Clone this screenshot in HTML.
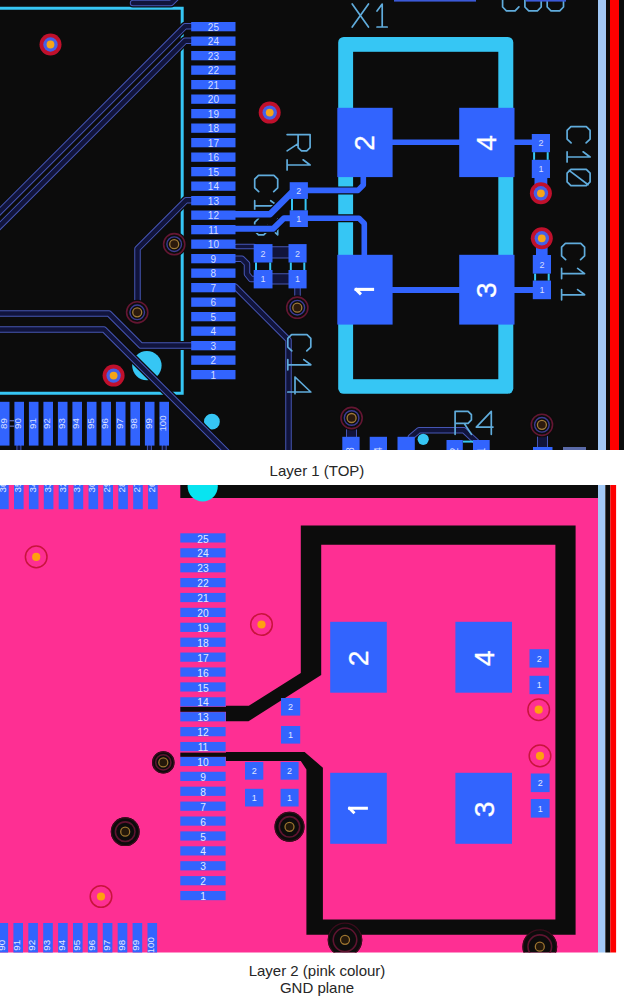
<!DOCTYPE html><html><head><meta charset="utf-8"><style>
html,body{margin:0;padding:0;background:#fff;width:624px;height:998px;overflow:hidden}
svg{position:absolute;left:0;top:0}
.cap{position:absolute;left:5px;width:624px;text-align:center;font-family:"Liberation Sans",sans-serif;color:#262626;font-size:15px;line-height:17px}
</style></head><body>
<svg width="624" height="998" viewBox="0 0 624 998" font-family="Liberation Sans, sans-serif">

<rect x="0" y="0" width="624" height="450" fill="#0c0c0c"/>
<defs><clipPath id="ct"><rect x="0" y="0" width="624" height="450"/></clipPath><clipPath id="cb"><rect x="0" y="485" width="598" height="467.5"/></clipPath></defs>
<g clip-path="url(#ct)">
<rect x="598" y="0" width="8" height="450" fill="#a2c9f7"/>
<rect x="610" y="0" width="9" height="450" fill="#fe0000"/>
<path d="M0,8.3 L182.2,8.3 L182.2,393.2 L0,393.2" fill="none" stroke="#36c6f4" stroke-width="3"/>
<rect x="338.2" y="37.0" width="175.1" height="356.8" rx="5.5" fill="#36c6f4"/>
<rect x="353.1" y="51.8" width="145.2" height="327.4" fill="#0c0c0c"/>
<path d="M191,26.3 L185,26.3 L-5,216.3" fill="none" stroke="#0c0c0c" stroke-width="9.0" stroke-linejoin="round" stroke-linecap="round"/>
<path d="M191,26.3 L185,26.3 L-5,216.3" fill="none" stroke="#4656b4" stroke-width="6.5" stroke-linejoin="round" stroke-linecap="round"/>
<path d="M191,26.3 L185,26.3 L-5,216.3" fill="none" stroke="#11143c" stroke-width="4.5" stroke-linejoin="round" stroke-linecap="round"/>
<path d="M191,40.8 L185,40.8 L-5,230.8" fill="none" stroke="#0c0c0c" stroke-width="9.0" stroke-linejoin="round" stroke-linecap="round"/>
<path d="M191,40.8 L185,40.8 L-5,230.8" fill="none" stroke="#4656b4" stroke-width="6.5" stroke-linejoin="round" stroke-linecap="round"/>
<path d="M191,40.8 L185,40.8 L-5,230.8" fill="none" stroke="#11143c" stroke-width="4.5" stroke-linejoin="round" stroke-linecap="round"/>
<path d="M133,3 L171,3 L178,-4" fill="none" stroke="#0c0c0c" stroke-width="9.0" stroke-linejoin="round" stroke-linecap="round"/>
<path d="M133,3 L171,3 L178,-4" fill="none" stroke="#4656b4" stroke-width="6.5" stroke-linejoin="round" stroke-linecap="round"/>
<path d="M133,3 L171,3 L178,-4" fill="none" stroke="#11143c" stroke-width="4.5" stroke-linejoin="round" stroke-linecap="round"/>
<path d="M191,200.3 L186,200.3 L137.5,248.8 L137.5,312" fill="none" stroke="#0c0c0c" stroke-width="9.0" stroke-linejoin="round" stroke-linecap="round"/>
<path d="M191,200.3 L186,200.3 L137.5,248.8 L137.5,312" fill="none" stroke="#4656b4" stroke-width="6.5" stroke-linejoin="round" stroke-linecap="round"/>
<path d="M191,200.3 L186,200.3 L137.5,248.8 L137.5,312" fill="none" stroke="#11143c" stroke-width="4.5" stroke-linejoin="round" stroke-linecap="round"/>
<path d="M-5,313.6 L109,313.6 L141,345.6 L191,345.6" fill="none" stroke="#0c0c0c" stroke-width="9.0" stroke-linejoin="round" stroke-linecap="round"/>
<path d="M-5,313.6 L109,313.6 L141,345.6 L191,345.6" fill="none" stroke="#4656b4" stroke-width="6.5" stroke-linejoin="round" stroke-linecap="round"/>
<path d="M-5,313.6 L109,313.6 L141,345.6 L191,345.6" fill="none" stroke="#11143c" stroke-width="4.5" stroke-linejoin="round" stroke-linecap="round"/>
<path d="M236.5,246.5 L254,246.5" fill="none" stroke="#0c0c0c" stroke-width="8.1" stroke-linejoin="round" stroke-linecap="round"/>
<path d="M236.5,246.5 L254,246.5" fill="none" stroke="#4656b4" stroke-width="5.6" stroke-linejoin="round" stroke-linecap="round"/>
<path d="M236.5,246.5 L254,246.5" fill="none" stroke="#11143c" stroke-width="3.5999999999999996" stroke-linejoin="round" stroke-linecap="round"/>
<path d="M235.5,258.8 L242,258.8 L247,263.8 L247,274 L251,279 L254,279" fill="none" stroke="#0c0c0c" stroke-width="9.0" stroke-linejoin="round" stroke-linecap="round"/>
<path d="M235.5,258.8 L242,258.8 L247,263.8 L247,274 L251,279 L254,279" fill="none" stroke="#4656b4" stroke-width="6.5" stroke-linejoin="round" stroke-linecap="round"/>
<path d="M235.5,258.8 L242,258.8 L247,263.8 L247,274 L251,279 L254,279" fill="none" stroke="#11143c" stroke-width="4.5" stroke-linejoin="round" stroke-linecap="round"/>
<path d="M270,252.4 L291,252.4" fill="none" stroke="#4656b4" stroke-width="12.4" stroke-linejoin="round" stroke-linecap="round"/>
<path d="M270,252.4 L291,252.4" fill="none" stroke="#11143c" stroke-width="10.4" stroke-linejoin="round" stroke-linecap="round"/>
<path d="M270,278.8 L291,278.8" fill="none" stroke="#4656b4" stroke-width="11.2" stroke-linejoin="round" stroke-linecap="round"/>
<path d="M270,278.8 L291,278.8" fill="none" stroke="#11143c" stroke-width="9.2" stroke-linejoin="round" stroke-linecap="round"/>
<path d="M297.5,288 L297.5,305" fill="none" stroke="#0c0c0c" stroke-width="9.0" stroke-linejoin="round" stroke-linecap="round"/>
<path d="M297.5,288 L297.5,305" fill="none" stroke="#4656b4" stroke-width="6.5" stroke-linejoin="round" stroke-linecap="round"/>
<path d="M297.5,288 L297.5,305" fill="none" stroke="#11143c" stroke-width="4.5" stroke-linejoin="round" stroke-linecap="round"/>
<path d="M235.5,287 L288.5,340 L288.5,460" fill="none" stroke="#0c0c0c" stroke-width="9.0" stroke-linejoin="round" stroke-linecap="round"/>
<path d="M235.5,287 L288.5,340 L288.5,460" fill="none" stroke="#4656b4" stroke-width="6.5" stroke-linejoin="round" stroke-linecap="round"/>
<path d="M235.5,287 L288.5,340 L288.5,460" fill="none" stroke="#11143c" stroke-width="4.5" stroke-linejoin="round" stroke-linecap="round"/>
<path d="M149.4,446 L149.4,455" fill="none" stroke="#0c0c0c" stroke-width="7.5" stroke-linejoin="round" stroke-linecap="round"/>
<path d="M149.4,446 L149.4,455" fill="none" stroke="#4656b4" stroke-width="5" stroke-linejoin="round" stroke-linecap="round"/>
<path d="M149.4,446 L149.4,455" fill="none" stroke="#11143c" stroke-width="3" stroke-linejoin="round" stroke-linecap="round"/>
<path d="M18.9,446 L18.9,455" fill="none" stroke="#0c0c0c" stroke-width="7.5" stroke-linejoin="round" stroke-linecap="round"/>
<path d="M18.9,446 L18.9,455" fill="none" stroke="#4656b4" stroke-width="5" stroke-linejoin="round" stroke-linecap="round"/>
<path d="M18.9,446 L18.9,455" fill="none" stroke="#11143c" stroke-width="3" stroke-linejoin="round" stroke-linecap="round"/>
<path d="M164.2,446 L164.2,455" fill="none" stroke="#0c0c0c" stroke-width="7.5" stroke-linejoin="round" stroke-linecap="round"/>
<path d="M164.2,446 L164.2,455" fill="none" stroke="#4656b4" stroke-width="5" stroke-linejoin="round" stroke-linecap="round"/>
<path d="M164.2,446 L164.2,455" fill="none" stroke="#11143c" stroke-width="3" stroke-linejoin="round" stroke-linecap="round"/>
<path d="M411,437 L419,430.3 L464,430.3 L476,441.5" fill="none" stroke="#0c0c0c" stroke-width="9.0" stroke-linejoin="round" stroke-linecap="round"/>
<path d="M411,437 L419,430.3 L464,430.3 L476,441.5" fill="none" stroke="#4656b4" stroke-width="6.5" stroke-linejoin="round" stroke-linecap="round"/>
<path d="M411,437 L419,430.3 L464,430.3 L476,441.5" fill="none" stroke="#11143c" stroke-width="4.5" stroke-linejoin="round" stroke-linecap="round"/>
<path d="M351.5,428 L351.5,440" fill="none" stroke="#0c0c0c" stroke-width="13.5" stroke-linejoin="round" stroke-linecap="round"/>
<path d="M351.5,428 L351.5,440" fill="none" stroke="#4656b4" stroke-width="11" stroke-linejoin="round" stroke-linecap="round"/>
<path d="M351.5,428 L351.5,440" fill="none" stroke="#11143c" stroke-width="9" stroke-linejoin="round" stroke-linecap="round"/>
<path d="M542.5,434 L542.5,452" fill="none" stroke="#0c0c0c" stroke-width="13.5" stroke-linejoin="round" stroke-linecap="round"/>
<path d="M542.5,434 L542.5,452" fill="none" stroke="#4656b4" stroke-width="11" stroke-linejoin="round" stroke-linecap="round"/>
<path d="M542.5,434 L542.5,452" fill="none" stroke="#11143c" stroke-width="9" stroke-linejoin="round" stroke-linecap="round"/>
<g transform="translate(352.2,4.0)" fill="none" stroke="#60acdc" stroke-width="1.7" stroke-linejoin="round" stroke-linecap="round"><path transform="translate(0.00,0)" d="M0,0 L16.30,23.00 M16.30,0 L0,23.00"/><path transform="translate(21.00,0)" d="M9,23.00 V0 L3.8,7 M3.8,23.00 H14"/></g>
<g transform="translate(455.1,411.3)" fill="none" stroke="#60acdc" stroke-width="1.7" stroke-linejoin="round" stroke-linecap="round"><path transform="translate(0.00,0)" d="M0,23.00 V0 H13.00 L16.30,3.4 V8.6 L13.00,12 H0 M9,12 L16.30,23.00"/><path transform="translate(21.20,0)" d="M15,23.00 V0 L0,15.8 H16.70"/></g>
<g transform="translate(502.6,-12.2)" fill="none" stroke="#60acdc" stroke-width="1.7" stroke-linejoin="round" stroke-linecap="round"><path transform="translate(0.00,0)" d="M16.30,4.0 L12.50,0 H3.8 L0,3.8 V19.20 L3.8,23.00 H12.50 L16.30,19.00"/><path transform="translate(22.30,0)" d="M3.8,0 H12.50 L16.30,3.8 V19.20 L12.50,23.00 H3.8 L0,19.20 V3.8 Z"/><path transform="translate(44.60,0)" d="M3.8,0 H12.50 L16.30,3.8 V19.20 L12.50,23.00 H3.8 L0,19.20 V3.8 Z"/></g>
<g transform="translate(310.1,134.6) rotate(90)" fill="none" stroke="#60acdc" stroke-width="1.7" stroke-linejoin="round" stroke-linecap="round"><path transform="translate(0.00,0)" d="M0,23.00 V0 H13.00 L16.30,3.4 V8.6 L13.00,12 H0 M9,12 L16.30,23.00"/><path transform="translate(21.40,0)" d="M9,23.00 V0 L3.8,7 M3.8,23.00 H14"/></g>
<g transform="translate(277.7,175.3) rotate(90)" fill="none" stroke="#60acdc" stroke-width="1.7" stroke-linejoin="round" stroke-linecap="round"><path transform="translate(0.00,0)" d="M16.30,4.0 L12.50,0 H3.8 L0,3.8 V19.20 L3.8,23.00 H12.50 L16.30,19.00"/><path transform="translate(21.60,0)" d="M9,23.00 V0 L3.8,7 M3.8,23.00 H14"/><path transform="translate(43.20,0)" d="M0.5,0 H16.30 L7,10 H12.3 L16.30,14.0 V19.20 L12.50,23.00 H3.8 L0,19.20"/></g>
<g transform="translate(590.1,126.6) rotate(90)" fill="none" stroke="#60acdc" stroke-width="1.7" stroke-linejoin="round" stroke-linecap="round"><path transform="translate(0.00,0)" d="M16.30,4.0 L12.50,0 H3.8 L0,3.8 V19.20 L3.8,23.00 H12.50 L16.30,19.00"/><path transform="translate(21.40,0)" d="M9,23.00 V0 L3.8,7 M3.8,23.00 H14"/><path transform="translate(42.80,0)" d="M3.8,0 H12.50 L16.30,3.8 V19.20 L12.50,23.00 H3.8 L0,19.20 V3.8 Z M1,21.00 L15.30,2"/></g>
<g transform="translate(584.6,243.4) rotate(90)" fill="none" stroke="#60acdc" stroke-width="1.7" stroke-linejoin="round" stroke-linecap="round"><path transform="translate(0.00,0)" d="M16.30,4.0 L12.50,0 H3.8 L0,3.8 V19.20 L3.8,23.00 H12.50 L16.30,19.00"/><path transform="translate(21.20,0)" d="M9,23.00 V0 L3.8,7 M3.8,23.00 H14"/><path transform="translate(42.40,0)" d="M9,23.00 V0 L3.8,7 M3.8,23.00 H14"/></g>
<g transform="translate(310.8,334.6) rotate(90)" fill="none" stroke="#60acdc" stroke-width="1.7" stroke-linejoin="round" stroke-linecap="round"><path transform="translate(0.00,0)" d="M16.30,4.0 L12.50,0 H3.8 L0,3.8 V19.20 L3.8,23.00 H12.50 L16.30,19.00"/><path transform="translate(21.20,0)" d="M9,23.00 V0 L3.8,7 M3.8,23.00 H14"/><path transform="translate(42.40,0)" d="M15,23.00 V0 L0,15.8 H16.70"/></g>
<path d="M230,214.2 L270,214.2 L292,192.2" fill="none" stroke="#0c0c0c" stroke-width="8.8" stroke-linejoin="round"/>
<path d="M230,214.2 L270,214.2 L292,192.2" fill="none" stroke="#3264fe" stroke-width="6.4" stroke-linejoin="round"/>
<path d="M230,228.8 L273,228.8 L284,218.2 L300,218.2" fill="none" stroke="#0c0c0c" stroke-width="8.4" stroke-linejoin="round"/>
<path d="M230,228.8 L273,228.8 L284,218.2 L300,218.2" fill="none" stroke="#3264fe" stroke-width="6.0" stroke-linejoin="round"/>
<path d="M300,190.4 L358,190.4 L363.3,185 L363.3,170" fill="none" stroke="#0c0c0c" stroke-width="8.0" stroke-linejoin="round"/>
<path d="M300,190.4 L358,190.4 L363.3,185 L363.3,170" fill="none" stroke="#3264fe" stroke-width="5.6" stroke-linejoin="round"/>
<path d="M300,218.2 L359,218.2 L364.3,223.5 L364.3,262" fill="none" stroke="#0c0c0c" stroke-width="8.0" stroke-linejoin="round"/>
<path d="M300,218.2 L359,218.2 L364.3,223.5 L364.3,262" fill="none" stroke="#3264fe" stroke-width="5.6" stroke-linejoin="round"/>
<path d="M380,142.2 L540,142.2" fill="none" stroke="#0c0c0c" stroke-width="8.0" stroke-linejoin="round"/>
<path d="M380,142.2 L540,142.2" fill="none" stroke="#3264fe" stroke-width="5.6" stroke-linejoin="round"/>
<path d="M380,290 L540,290" fill="none" stroke="#0c0c0c" stroke-width="8.4" stroke-linejoin="round"/>
<path d="M380,290 L540,290" fill="none" stroke="#3264fe" stroke-width="6" stroke-linejoin="round"/>
<rect x="534.5" y="175" width="12.8" height="12" fill="#3264fe"/>
<rect x="536" y="246" width="11.6" height="12" fill="#3264fe"/>
<rect x="191.2" y="370.00" width="44.3" height="9.3" fill="#3264fe"/>
<text x="213.4" y="378.60" font-size="10" fill="#d4ddff" text-anchor="middle">1</text>
<rect x="191.2" y="355.50" width="44.3" height="9.3" fill="#3264fe"/>
<text x="213.4" y="364.10" font-size="10" fill="#d4ddff" text-anchor="middle">2</text>
<rect x="191.2" y="341.00" width="44.3" height="9.3" fill="#3264fe"/>
<text x="213.4" y="349.60" font-size="10" fill="#d4ddff" text-anchor="middle">3</text>
<rect x="191.2" y="326.50" width="44.3" height="9.3" fill="#3264fe"/>
<text x="213.4" y="335.10" font-size="10" fill="#d4ddff" text-anchor="middle">4</text>
<rect x="191.2" y="312.00" width="44.3" height="9.3" fill="#3264fe"/>
<text x="213.4" y="320.60" font-size="10" fill="#d4ddff" text-anchor="middle">5</text>
<rect x="191.2" y="297.50" width="44.3" height="9.3" fill="#3264fe"/>
<text x="213.4" y="306.10" font-size="10" fill="#d4ddff" text-anchor="middle">6</text>
<rect x="191.2" y="283.00" width="44.3" height="9.3" fill="#3264fe"/>
<text x="213.4" y="291.60" font-size="10" fill="#d4ddff" text-anchor="middle">7</text>
<rect x="191.2" y="268.50" width="44.3" height="9.3" fill="#3264fe"/>
<text x="213.4" y="277.10" font-size="10" fill="#d4ddff" text-anchor="middle">8</text>
<rect x="191.2" y="254.00" width="44.3" height="9.3" fill="#3264fe"/>
<text x="213.4" y="262.60" font-size="10" fill="#d4ddff" text-anchor="middle">9</text>
<rect x="191.2" y="239.50" width="44.3" height="9.3" fill="#3264fe"/>
<text x="213.4" y="248.10" font-size="10" fill="#d4ddff" text-anchor="middle">10</text>
<rect x="191.2" y="225.00" width="44.3" height="9.3" fill="#3264fe"/>
<text x="213.4" y="233.60" font-size="10" fill="#d4ddff" text-anchor="middle">11</text>
<rect x="191.2" y="210.50" width="44.3" height="9.3" fill="#3264fe"/>
<text x="213.4" y="219.10" font-size="10" fill="#d4ddff" text-anchor="middle">12</text>
<rect x="191.2" y="196.00" width="44.3" height="9.3" fill="#3264fe"/>
<text x="213.4" y="204.60" font-size="10" fill="#d4ddff" text-anchor="middle">13</text>
<rect x="191.2" y="181.50" width="44.3" height="9.3" fill="#3264fe"/>
<text x="213.4" y="190.10" font-size="10" fill="#d4ddff" text-anchor="middle">14</text>
<rect x="191.2" y="167.00" width="44.3" height="9.3" fill="#3264fe"/>
<text x="213.4" y="175.60" font-size="10" fill="#d4ddff" text-anchor="middle">15</text>
<rect x="191.2" y="152.50" width="44.3" height="9.3" fill="#3264fe"/>
<text x="213.4" y="161.10" font-size="10" fill="#d4ddff" text-anchor="middle">16</text>
<rect x="191.2" y="138.00" width="44.3" height="9.3" fill="#3264fe"/>
<text x="213.4" y="146.60" font-size="10" fill="#d4ddff" text-anchor="middle">17</text>
<rect x="191.2" y="123.50" width="44.3" height="9.3" fill="#3264fe"/>
<text x="213.4" y="132.10" font-size="10" fill="#d4ddff" text-anchor="middle">18</text>
<rect x="191.2" y="109.00" width="44.3" height="9.3" fill="#3264fe"/>
<text x="213.4" y="117.60" font-size="10" fill="#d4ddff" text-anchor="middle">19</text>
<rect x="191.2" y="94.50" width="44.3" height="9.3" fill="#3264fe"/>
<text x="213.4" y="103.10" font-size="10" fill="#d4ddff" text-anchor="middle">20</text>
<rect x="191.2" y="80.00" width="44.3" height="9.3" fill="#3264fe"/>
<text x="213.4" y="88.60" font-size="10" fill="#d4ddff" text-anchor="middle">21</text>
<rect x="191.2" y="65.50" width="44.3" height="9.3" fill="#3264fe"/>
<text x="213.4" y="74.10" font-size="10" fill="#d4ddff" text-anchor="middle">22</text>
<rect x="191.2" y="51.00" width="44.3" height="9.3" fill="#3264fe"/>
<text x="213.4" y="59.60" font-size="10" fill="#d4ddff" text-anchor="middle">23</text>
<rect x="191.2" y="36.50" width="44.3" height="9.3" fill="#3264fe"/>
<text x="213.4" y="45.10" font-size="10" fill="#d4ddff" text-anchor="middle">24</text>
<rect x="191.2" y="22.00" width="44.3" height="9.3" fill="#3264fe"/>
<text x="213.4" y="30.60" font-size="10" fill="#d4ddff" text-anchor="middle">25</text>
<rect x="-0.10" y="401.8" width="9.6" height="43.8" fill="#3264fe"/>
<text x="3.30" y="423.50" font-size="9.7" fill="#d4ddff" text-anchor="middle" transform="rotate(-90 3.30 423.50)" dy="3.5">89</text>
<rect x="14.40" y="401.8" width="9.6" height="43.8" fill="#3264fe"/>
<text x="17.80" y="423.50" font-size="9.7" fill="#d4ddff" text-anchor="middle" transform="rotate(-90 17.80 423.50)" dy="3.5">90</text>
<rect x="28.90" y="401.8" width="9.6" height="43.8" fill="#3264fe"/>
<text x="32.30" y="423.50" font-size="9.7" fill="#d4ddff" text-anchor="middle" transform="rotate(-90 32.30 423.50)" dy="3.5">91</text>
<rect x="43.40" y="401.8" width="9.6" height="43.8" fill="#3264fe"/>
<text x="46.80" y="423.50" font-size="9.7" fill="#d4ddff" text-anchor="middle" transform="rotate(-90 46.80 423.50)" dy="3.5">92</text>
<rect x="57.90" y="401.8" width="9.6" height="43.8" fill="#3264fe"/>
<text x="61.30" y="423.50" font-size="9.7" fill="#d4ddff" text-anchor="middle" transform="rotate(-90 61.30 423.50)" dy="3.5">93</text>
<rect x="72.40" y="401.8" width="9.6" height="43.8" fill="#3264fe"/>
<text x="75.80" y="423.50" font-size="9.7" fill="#d4ddff" text-anchor="middle" transform="rotate(-90 75.80 423.50)" dy="3.5">94</text>
<rect x="86.90" y="401.8" width="9.6" height="43.8" fill="#3264fe"/>
<text x="90.30" y="423.50" font-size="9.7" fill="#d4ddff" text-anchor="middle" transform="rotate(-90 90.30 423.50)" dy="3.5">95</text>
<rect x="101.40" y="401.8" width="9.6" height="43.8" fill="#3264fe"/>
<text x="104.80" y="423.50" font-size="9.7" fill="#d4ddff" text-anchor="middle" transform="rotate(-90 104.80 423.50)" dy="3.5">96</text>
<rect x="115.90" y="401.8" width="9.6" height="43.8" fill="#3264fe"/>
<text x="119.30" y="423.50" font-size="9.7" fill="#d4ddff" text-anchor="middle" transform="rotate(-90 119.30 423.50)" dy="3.5">97</text>
<rect x="130.40" y="401.8" width="9.6" height="43.8" fill="#3264fe"/>
<text x="133.80" y="423.50" font-size="9.7" fill="#d4ddff" text-anchor="middle" transform="rotate(-90 133.80 423.50)" dy="3.5">98</text>
<rect x="144.90" y="401.8" width="9.6" height="43.8" fill="#3264fe"/>
<text x="148.30" y="423.50" font-size="9.7" fill="#d4ddff" text-anchor="middle" transform="rotate(-90 148.30 423.50)" dy="3.5">99</text>
<rect x="159.40" y="401.8" width="9.6" height="43.8" fill="#3264fe"/>
<text x="162.80" y="423.50" font-size="9.7" fill="#d4ddff" text-anchor="middle" transform="rotate(-90 162.80 423.50)" dy="3.5">100</text>
<rect x="9.6" y="420.2" width="4.4" height="1.1" fill="#6a78c8"/>
<rect x="9.6" y="425.6" width="4.4" height="1.1" fill="#6a78c8"/>
<rect x="337.3" y="107.8" width="55.3" height="69.3" fill="#3264fe"/>
<text x="364.35" y="143.05" font-size="28" fill="#ffffff" stroke="#ffffff" stroke-width="0.3" text-anchor="middle" dy="10.08" transform="rotate(-90 364.35 143.05)">2</text>
<rect x="459.2" y="107.8" width="55.3" height="69.3" fill="#3264fe"/>
<text x="486.25" y="143.05" font-size="28" fill="#ffffff" stroke="#ffffff" stroke-width="0.3" text-anchor="middle" dy="10.08" transform="rotate(-90 486.25 143.05)">4</text>
<rect x="337.3" y="254.8" width="55.3" height="69.8" fill="#3264fe"/>
<text x="364.35" y="290.30" font-size="28" fill="#ffffff" stroke="#ffffff" stroke-width="0.3" text-anchor="middle" dy="10.08" transform="rotate(-90 364.35 290.30)"></text>
<path d="M354.6,289.4 H374.1" stroke="#fff" stroke-width="3.1"/>
<path d="M355.20000000000005,288.59999999999997 L361.0,294.4" stroke="#fff" stroke-width="2.9" stroke-linecap="butt"/>
<rect x="459.2" y="254.8" width="55.3" height="69.8" fill="#3264fe"/>
<text x="486.25" y="290.30" font-size="28" fill="#ffffff" stroke="#ffffff" stroke-width="0.3" text-anchor="middle" dy="10.08" transform="rotate(-90 486.25 290.30)">3</text>
<rect x="289.7" y="182.2" width="18.2" height="16.7" fill="#3264fe"/>
<rect x="289.7" y="210.3" width="18.2" height="16.7" fill="#3264fe"/>
<rect x="291.0" y="198.89999999999998" width="2" height="11.400000000000034" fill="#36c6f4"/>
<rect x="304.59999999999997" y="198.89999999999998" width="2" height="11.400000000000034" fill="#36c6f4"/>
<text x="298.80" y="193.75" font-size="9" fill="#d4ddff" text-anchor="middle">2</text>
<text x="298.80" y="221.85" font-size="9" fill="#d4ddff" text-anchor="middle">1</text>
<rect x="531.8" y="134" width="18.2" height="18.2" fill="#3264fe"/>
<rect x="531.8" y="159.8" width="18.2" height="18.2" fill="#3264fe"/>
<rect x="533.0999999999999" y="152.2" width="2" height="7.600000000000023" fill="#36c6f4"/>
<rect x="546.7" y="152.2" width="2" height="7.600000000000023" fill="#36c6f4"/>
<text x="540.90" y="146.30" font-size="9" fill="#d4ddff" text-anchor="middle">2</text>
<text x="540.90" y="172.10" font-size="9" fill="#d4ddff" text-anchor="middle">1</text>
<rect x="532.8" y="255" width="18.2" height="18.6" fill="#3264fe"/>
<rect x="532.8" y="280.6" width="18.2" height="18.6" fill="#3264fe"/>
<rect x="534.0999999999999" y="273.6" width="2" height="7.0" fill="#36c6f4"/>
<rect x="547.7" y="273.6" width="2" height="7.0" fill="#36c6f4"/>
<text x="541.90" y="267.50" font-size="9" fill="#d4ddff" text-anchor="middle">2</text>
<text x="541.90" y="293.10" font-size="9" fill="#d4ddff" text-anchor="middle">1</text>
<rect x="253.7" y="244.1" width="18.8" height="18.4" fill="#3264fe"/>
<rect x="253.7" y="270" width="18.8" height="18.4" fill="#3264fe"/>
<rect x="255.0" y="262.5" width="2" height="7.5" fill="#36c6f4"/>
<rect x="269.2" y="262.5" width="2" height="7.5" fill="#36c6f4"/>
<text x="263.10" y="256.50" font-size="9" fill="#d4ddff" text-anchor="middle">2</text>
<text x="263.10" y="282.40" font-size="9" fill="#d4ddff" text-anchor="middle">1</text>
<rect x="288.5" y="244.1" width="18.1" height="18.4" fill="#3264fe"/>
<rect x="288.5" y="270" width="18.1" height="18.4" fill="#3264fe"/>
<rect x="289.8" y="262.5" width="2" height="7.5" fill="#36c6f4"/>
<rect x="303.3" y="262.5" width="2" height="7.5" fill="#36c6f4"/>
<text x="297.55" y="256.50" font-size="9" fill="#d4ddff" text-anchor="middle">2</text>
<text x="297.55" y="282.40" font-size="9" fill="#d4ddff" text-anchor="middle">1</text>
<rect x="342.3" y="436.8" width="17.3" height="20" fill="#3264fe"/>
<rect x="369.7" y="436.8" width="17.3" height="20" fill="#3264fe"/>
<rect x="397.5" y="436.8" width="17.3" height="20" fill="#3264fe"/>
<rect x="446.5" y="440" width="16.3" height="20" fill="#3264fe"/>
<rect x="473" y="440" width="16.7" height="20" fill="#3264fe"/>
<rect x="463" y="440.6" width="10" height="2" fill="#36c6f4"/>
<text x="350.9" y="452.8" font-size="10" fill="#d4ddff" text-anchor="middle" dy="3.6" transform="rotate(-90 350.9 452.8)">23</text>
<text x="378.3" y="452.8" font-size="10" fill="#d4ddff" text-anchor="middle" dy="3.6" transform="rotate(-90 378.3 452.8)">24</text>
<text x="454.6" y="450.5" font-size="10" fill="#d4ddff" text-anchor="middle" dy="3.6" transform="rotate(-90 454.6 450.5)">2</text>
<text x="481.3" y="450.5" font-size="10" fill="#d4ddff" text-anchor="middle" dy="3.6" transform="rotate(-90 481.3 450.5)">1</text>
<rect x="533" y="447" width="19.5" height="10" fill="#3264fe"/>
<rect x="563" y="447" width="23" height="10" fill="#5a6aa8"/>
<rect x="394" y="-2" width="82" height="3.6" fill="#3c5ad8"/>
<rect x="526" y="-2" width="40" height="3.6" fill="#3c5ad8"/>
<circle cx="146.9" cy="365.6" r="14.7" fill="#36c6f4"/>
<circle cx="211.9" cy="421.7" r="7.9" fill="#36c6f4"/>
<circle cx="423.2" cy="439.3" r="5.6" fill="#36c6f4"/>
<path d="M-5,329.5 L104,329.5 L245,470" fill="none" stroke="#0c0c0c" stroke-width="9.0" stroke-linejoin="round" stroke-linecap="round"/>
<path d="M-5,329.5 L104,329.5 L245,470" fill="none" stroke="#4656b4" stroke-width="6.5" stroke-linejoin="round" stroke-linecap="round"/>
<path d="M-5,329.5 L104,329.5 L245,470" fill="none" stroke="#11143c" stroke-width="4.5" stroke-linejoin="round" stroke-linecap="round"/>
<circle cx="50.5" cy="44.5" r="11" fill="#c0102c"/>
<circle cx="50.5" cy="44.5" r="7.2" fill="#4460e8"/>
<circle cx="50.5" cy="44.5" r="3.9" fill="#f6a418"/>
<circle cx="269.7" cy="112.6" r="11" fill="#c0102c"/>
<circle cx="269.7" cy="112.6" r="7.2" fill="#4460e8"/>
<circle cx="269.7" cy="112.6" r="3.9" fill="#f6a418"/>
<circle cx="540.9" cy="193.3" r="11" fill="#c0102c"/>
<circle cx="540.9" cy="193.3" r="7.2" fill="#4460e8"/>
<circle cx="540.9" cy="193.3" r="3.9" fill="#f6a418"/>
<circle cx="541.8" cy="238.3" r="11" fill="#c0102c"/>
<circle cx="541.8" cy="238.3" r="7.2" fill="#4460e8"/>
<circle cx="541.8" cy="238.3" r="3.9" fill="#f6a418"/>
<circle cx="113.6" cy="375.6" r="11" fill="#c0102c"/>
<circle cx="113.6" cy="375.6" r="7.2" fill="#4460e8"/>
<circle cx="113.6" cy="375.6" r="3.9" fill="#f6a418"/>
<circle cx="174.2" cy="244.2" r="12.5" fill="#0c0c0c"/>
<circle cx="174.2" cy="244.2" r="10.6" fill="none" stroke="#641632" stroke-width="1.6"/>
<circle cx="174.2" cy="244.2" r="7.3" fill="none" stroke="#3c3c94" stroke-width="1.4"/>
<circle cx="174.2" cy="244.2" r="4.5" fill="#2c1a0c" stroke="#a07a38" stroke-width="1.3"/>
<circle cx="137.2" cy="312.3" r="12.5" fill="#0c0c0c"/>
<circle cx="137.2" cy="312.3" r="10.6" fill="none" stroke="#641632" stroke-width="1.6"/>
<circle cx="137.2" cy="312.3" r="7.3" fill="none" stroke="#3c3c94" stroke-width="1.4"/>
<circle cx="137.2" cy="312.3" r="4.5" fill="#2c1a0c" stroke="#a07a38" stroke-width="1.3"/>
<circle cx="297.3" cy="307.7" r="12.5" fill="#0c0c0c"/>
<circle cx="297.3" cy="307.7" r="10.6" fill="none" stroke="#641632" stroke-width="1.6"/>
<circle cx="297.3" cy="307.7" r="7.3" fill="none" stroke="#3c3c94" stroke-width="1.4"/>
<circle cx="297.3" cy="307.7" r="4.5" fill="#2c1a0c" stroke="#a07a38" stroke-width="1.3"/>
<circle cx="351.6" cy="418" r="12.5" fill="#0c0c0c"/>
<circle cx="351.6" cy="418" r="10.6" fill="none" stroke="#641632" stroke-width="1.6"/>
<circle cx="351.6" cy="418" r="7.3" fill="none" stroke="#3c3c94" stroke-width="1.4"/>
<circle cx="351.6" cy="418" r="4.5" fill="#2c1a0c" stroke="#a07a38" stroke-width="1.3"/>
<circle cx="541.9" cy="424.8" r="12.5" fill="#0c0c0c"/>
<circle cx="541.9" cy="424.8" r="10.6" fill="none" stroke="#641632" stroke-width="1.6"/>
<circle cx="541.9" cy="424.8" r="7.3" fill="none" stroke="#3c3c94" stroke-width="1.4"/>
<circle cx="541.9" cy="424.8" r="4.5" fill="#2c1a0c" stroke="#a07a38" stroke-width="1.3"/>
</g>
<rect x="0" y="485" width="598" height="467.5" fill="#fe2f93"/>
<rect x="598" y="485" width="7.3" height="467.5" fill="#a2c9f7"/>
<rect x="605.3" y="485" width="5" height="467.5" fill="#0c0c0c"/>
<rect x="610.3" y="485" width="5.8" height="467.5" fill="#fe0000"/>
<g clip-path="url(#cb)">
<rect x="180.3" y="485" width="420" height="13" fill="#0c0c0c"/>
<circle cx="202.7" cy="486.3" r="15.1" fill="#08e4f0"/>
<rect x="148.10" y="465" width="9.6" height="44.2" fill="#3264fe"/>
<text x="151.50" y="487.10" font-size="9.8" fill="#e2e8ff" text-anchor="middle" dy="3.5" transform="rotate(-90 151.50 487.10)">26</text>
<rect x="133.20" y="465" width="9.6" height="44.2" fill="#3264fe"/>
<text x="136.60" y="487.10" font-size="9.8" fill="#e2e8ff" text-anchor="middle" dy="3.5" transform="rotate(-90 136.60 487.10)">27</text>
<rect x="118.30" y="465" width="9.6" height="44.2" fill="#3264fe"/>
<text x="121.70" y="487.10" font-size="9.8" fill="#e2e8ff" text-anchor="middle" dy="3.5" transform="rotate(-90 121.70 487.10)">28</text>
<rect x="103.40" y="465" width="9.6" height="44.2" fill="#3264fe"/>
<text x="106.80" y="487.10" font-size="9.8" fill="#e2e8ff" text-anchor="middle" dy="3.5" transform="rotate(-90 106.80 487.10)">29</text>
<rect x="88.50" y="465" width="9.6" height="44.2" fill="#3264fe"/>
<text x="91.90" y="487.10" font-size="9.8" fill="#e2e8ff" text-anchor="middle" dy="3.5" transform="rotate(-90 91.90 487.10)">30</text>
<rect x="73.60" y="465" width="9.6" height="44.2" fill="#3264fe"/>
<text x="77.00" y="487.10" font-size="9.8" fill="#e2e8ff" text-anchor="middle" dy="3.5" transform="rotate(-90 77.00 487.10)">31</text>
<rect x="58.70" y="465" width="9.6" height="44.2" fill="#3264fe"/>
<text x="62.10" y="487.10" font-size="9.8" fill="#e2e8ff" text-anchor="middle" dy="3.5" transform="rotate(-90 62.10 487.10)">32</text>
<rect x="43.80" y="465" width="9.6" height="44.2" fill="#3264fe"/>
<text x="47.20" y="487.10" font-size="9.8" fill="#e2e8ff" text-anchor="middle" dy="3.5" transform="rotate(-90 47.20 487.10)">33</text>
<rect x="28.90" y="465" width="9.6" height="44.2" fill="#3264fe"/>
<text x="32.30" y="487.10" font-size="9.8" fill="#e2e8ff" text-anchor="middle" dy="3.5" transform="rotate(-90 32.30 487.10)">34</text>
<rect x="14.00" y="465" width="9.6" height="44.2" fill="#3264fe"/>
<text x="17.40" y="487.10" font-size="9.8" fill="#e2e8ff" text-anchor="middle" dy="3.5" transform="rotate(-90 17.40 487.10)">35</text>
<rect x="-0.90" y="465" width="9.6" height="44.2" fill="#3264fe"/>
<text x="2.50" y="487.10" font-size="9.8" fill="#e2e8ff" text-anchor="middle" dy="3.5" transform="rotate(-90 2.50 487.10)">36</text>
<rect x="-1.50" y="923" width="9.6" height="44" fill="#3264fe"/>
<text x="1.90" y="945.30" font-size="9.8" fill="#e2e8ff" text-anchor="middle" dy="3.5" transform="rotate(-90 1.90 945.30)">90</text>
<rect x="13.40" y="923" width="9.6" height="44" fill="#3264fe"/>
<text x="16.80" y="945.30" font-size="9.8" fill="#e2e8ff" text-anchor="middle" dy="3.5" transform="rotate(-90 16.80 945.30)">91</text>
<rect x="28.30" y="923" width="9.6" height="44" fill="#3264fe"/>
<text x="31.70" y="945.30" font-size="9.8" fill="#e2e8ff" text-anchor="middle" dy="3.5" transform="rotate(-90 31.70 945.30)">92</text>
<rect x="43.20" y="923" width="9.6" height="44" fill="#3264fe"/>
<text x="46.60" y="945.30" font-size="9.8" fill="#e2e8ff" text-anchor="middle" dy="3.5" transform="rotate(-90 46.60 945.30)">93</text>
<rect x="58.10" y="923" width="9.6" height="44" fill="#3264fe"/>
<text x="61.50" y="945.30" font-size="9.8" fill="#e2e8ff" text-anchor="middle" dy="3.5" transform="rotate(-90 61.50 945.30)">94</text>
<rect x="73.00" y="923" width="9.6" height="44" fill="#3264fe"/>
<text x="76.40" y="945.30" font-size="9.8" fill="#e2e8ff" text-anchor="middle" dy="3.5" transform="rotate(-90 76.40 945.30)">95</text>
<rect x="87.90" y="923" width="9.6" height="44" fill="#3264fe"/>
<text x="91.30" y="945.30" font-size="9.8" fill="#e2e8ff" text-anchor="middle" dy="3.5" transform="rotate(-90 91.30 945.30)">96</text>
<rect x="102.80" y="923" width="9.6" height="44" fill="#3264fe"/>
<text x="106.20" y="945.30" font-size="9.8" fill="#e2e8ff" text-anchor="middle" dy="3.5" transform="rotate(-90 106.20 945.30)">97</text>
<rect x="117.70" y="923" width="9.6" height="44" fill="#3264fe"/>
<text x="121.10" y="945.30" font-size="9.8" fill="#e2e8ff" text-anchor="middle" dy="3.5" transform="rotate(-90 121.10 945.30)">98</text>
<rect x="132.60" y="923" width="9.6" height="44" fill="#3264fe"/>
<text x="136.00" y="945.30" font-size="9.8" fill="#e2e8ff" text-anchor="middle" dy="3.5" transform="rotate(-90 136.00 945.30)">99</text>
<rect x="147.50" y="923" width="9.6" height="44" fill="#3264fe"/>
<text x="150.90" y="945.30" font-size="9.8" fill="#e2e8ff" text-anchor="middle" dy="3.5" transform="rotate(-90 150.90 945.30)">100</text>
<rect x="180.3" y="891.00" width="45.3" height="9.2" fill="#3264fe"/>
<text x="203" y="900.20" font-size="10.2" fill="#e2e8ff" text-anchor="middle">1</text>
<rect x="180.3" y="876.10" width="45.3" height="9.2" fill="#3264fe"/>
<text x="203" y="885.30" font-size="10.2" fill="#e2e8ff" text-anchor="middle">2</text>
<rect x="180.3" y="861.19" width="45.3" height="9.2" fill="#3264fe"/>
<text x="203" y="870.39" font-size="10.2" fill="#e2e8ff" text-anchor="middle">3</text>
<rect x="180.3" y="846.29" width="45.3" height="9.2" fill="#3264fe"/>
<text x="203" y="855.49" font-size="10.2" fill="#e2e8ff" text-anchor="middle">4</text>
<rect x="180.3" y="831.38" width="45.3" height="9.2" fill="#3264fe"/>
<text x="203" y="840.58" font-size="10.2" fill="#e2e8ff" text-anchor="middle">5</text>
<rect x="180.3" y="816.48" width="45.3" height="9.2" fill="#3264fe"/>
<text x="203" y="825.68" font-size="10.2" fill="#e2e8ff" text-anchor="middle">6</text>
<rect x="180.3" y="801.58" width="45.3" height="9.2" fill="#3264fe"/>
<text x="203" y="810.78" font-size="10.2" fill="#e2e8ff" text-anchor="middle">7</text>
<rect x="180.3" y="786.67" width="45.3" height="9.2" fill="#3264fe"/>
<text x="203" y="795.87" font-size="10.2" fill="#e2e8ff" text-anchor="middle">8</text>
<rect x="180.3" y="771.77" width="45.3" height="9.2" fill="#3264fe"/>
<text x="203" y="780.97" font-size="10.2" fill="#e2e8ff" text-anchor="middle">9</text>
<rect x="180.3" y="756.86" width="45.3" height="9.2" fill="#3264fe"/>
<text x="203" y="766.06" font-size="10.2" fill="#e2e8ff" text-anchor="middle">10</text>
<rect x="180.3" y="741.96" width="45.3" height="9.2" fill="#3264fe"/>
<text x="203" y="751.16" font-size="10.2" fill="#e2e8ff" text-anchor="middle">11</text>
<rect x="180.3" y="727.06" width="45.3" height="9.2" fill="#3264fe"/>
<text x="203" y="736.26" font-size="10.2" fill="#e2e8ff" text-anchor="middle">12</text>
<rect x="180.3" y="712.15" width="45.3" height="9.2" fill="#3264fe"/>
<text x="203" y="721.35" font-size="10.2" fill="#e2e8ff" text-anchor="middle">13</text>
<rect x="180.3" y="697.25" width="45.3" height="9.2" fill="#3264fe"/>
<text x="203" y="706.45" font-size="10.2" fill="#e2e8ff" text-anchor="middle">14</text>
<rect x="180.3" y="682.34" width="45.3" height="9.2" fill="#3264fe"/>
<text x="203" y="691.54" font-size="10.2" fill="#e2e8ff" text-anchor="middle">15</text>
<rect x="180.3" y="667.44" width="45.3" height="9.2" fill="#3264fe"/>
<text x="203" y="676.64" font-size="10.2" fill="#e2e8ff" text-anchor="middle">16</text>
<rect x="180.3" y="652.54" width="45.3" height="9.2" fill="#3264fe"/>
<text x="203" y="661.74" font-size="10.2" fill="#e2e8ff" text-anchor="middle">17</text>
<rect x="180.3" y="637.63" width="45.3" height="9.2" fill="#3264fe"/>
<text x="203" y="646.83" font-size="10.2" fill="#e2e8ff" text-anchor="middle">18</text>
<rect x="180.3" y="622.73" width="45.3" height="9.2" fill="#3264fe"/>
<text x="203" y="631.93" font-size="10.2" fill="#e2e8ff" text-anchor="middle">19</text>
<rect x="180.3" y="607.82" width="45.3" height="9.2" fill="#3264fe"/>
<text x="203" y="617.02" font-size="10.2" fill="#e2e8ff" text-anchor="middle">20</text>
<rect x="180.3" y="592.92" width="45.3" height="9.2" fill="#3264fe"/>
<text x="203" y="602.12" font-size="10.2" fill="#e2e8ff" text-anchor="middle">21</text>
<rect x="180.3" y="578.02" width="45.3" height="9.2" fill="#3264fe"/>
<text x="203" y="587.22" font-size="10.2" fill="#e2e8ff" text-anchor="middle">22</text>
<rect x="180.3" y="563.11" width="45.3" height="9.2" fill="#3264fe"/>
<text x="203" y="572.31" font-size="10.2" fill="#e2e8ff" text-anchor="middle">23</text>
<rect x="180.3" y="548.21" width="45.3" height="9.2" fill="#3264fe"/>
<text x="203" y="557.41" font-size="10.2" fill="#e2e8ff" text-anchor="middle">24</text>
<rect x="180.3" y="533.30" width="45.3" height="9.2" fill="#3264fe"/>
<text x="203" y="542.50" font-size="10.2" fill="#e2e8ff" text-anchor="middle">25</text>
<path d="M300.8,525.5 H575.6 V934.8 H306.4 V769.6 L300.8,761 H226 V752 H304.6 L322.9,767.7 V919.6 H555.4 V544.7 H321.2 V675 L248.5,721.2 H226 V705.8 H248.8 L300.8,673 Z" fill="#0c0c0c"/>
<rect x="180.3" y="706.9" width="46" height="4.9" fill="#0c0c0c"/>
<rect x="180.3" y="752.6" width="46" height="4.2" fill="#0c0c0c"/>
<rect x="330.2" y="621.8" width="56.6" height="70.9" fill="#3264fe"/>
<text x="358.10" y="658.25" font-size="28.5" fill="#ffffff" stroke="#ffffff" stroke-width="0.3" text-anchor="middle" dy="10.26" transform="rotate(-90 358.10 658.25)">2</text>
<rect x="455.4" y="621.8" width="56.6" height="70.9" fill="#3264fe"/>
<text x="483.30" y="658.25" font-size="28.5" fill="#ffffff" stroke="#ffffff" stroke-width="0.3" text-anchor="middle" dy="10.26" transform="rotate(-90 483.30 658.25)">4</text>
<rect x="330.2" y="772.8" width="56.6" height="71.0" fill="#3264fe"/>
<text x="358.10" y="809.30" font-size="28.5" fill="#ffffff" stroke="#ffffff" stroke-width="0.3" text-anchor="middle" dy="10.26" transform="rotate(-90 358.10 809.30)"></text>
<path d="M348.1,808.3 H367.9" stroke="#fff" stroke-width="3.1"/>
<path d="M348.70000000000005,807.5 L354.5,813.3" stroke="#fff" stroke-width="2.9" stroke-linecap="butt"/>
<rect x="455.4" y="772.8" width="56.6" height="71.0" fill="#3264fe"/>
<text x="483.30" y="809.30" font-size="28.5" fill="#ffffff" stroke="#ffffff" stroke-width="0.3" text-anchor="middle" dy="10.26" transform="rotate(-90 483.30 809.30)">3</text>
<rect x="281.0" y="698.0" width="19.2" height="17.6" fill="#3264fe"/>
<rect x="281.0" y="726.0" width="19.2" height="17.6" fill="#3264fe"/>
<text x="290.60" y="710.10" font-size="9" fill="#e2e8ff" text-anchor="middle">2</text>
<text x="290.60" y="738.10" font-size="9" fill="#e2e8ff" text-anchor="middle">1</text>
<rect x="245.0" y="762.0" width="18.3" height="17.7" fill="#3264fe"/>
<rect x="245.0" y="788.8" width="18.3" height="17.7" fill="#3264fe"/>
<text x="254.15" y="774.15" font-size="9" fill="#e2e8ff" text-anchor="middle">2</text>
<text x="254.15" y="800.95" font-size="9" fill="#e2e8ff" text-anchor="middle">1</text>
<rect x="280.6" y="762.0" width="18.0" height="17.7" fill="#3264fe"/>
<rect x="280.6" y="788.8" width="18.0" height="17.7" fill="#3264fe"/>
<text x="289.60" y="774.15" font-size="9" fill="#e2e8ff" text-anchor="middle">2</text>
<text x="289.60" y="800.95" font-size="9" fill="#e2e8ff" text-anchor="middle">1</text>
<rect x="529.5" y="649.2" width="19.4" height="18.4" fill="#3264fe"/>
<rect x="529.5" y="675.8" width="19.4" height="18.4" fill="#3264fe"/>
<text x="539.20" y="661.70" font-size="9" fill="#e2e8ff" text-anchor="middle">2</text>
<text x="539.20" y="688.30" font-size="9" fill="#e2e8ff" text-anchor="middle">1</text>
<rect x="530.8" y="773.5" width="18.8" height="18.6" fill="#3264fe"/>
<rect x="530.8" y="799.0" width="18.8" height="18.6" fill="#3264fe"/>
<text x="540.20" y="786.10" font-size="9" fill="#e2e8ff" text-anchor="middle">2</text>
<text x="540.20" y="811.60" font-size="9" fill="#e2e8ff" text-anchor="middle">1</text>
<circle cx="36.2" cy="556.9" r="10.8" fill="none" stroke="#c8143c" stroke-width="1.5"/>
<circle cx="36.2" cy="556.9" r="4.1" fill="#ffa010"/>
<circle cx="261.5" cy="624.5" r="10.8" fill="none" stroke="#c8143c" stroke-width="1.5"/>
<circle cx="261.5" cy="624.5" r="4.1" fill="#ffa010"/>
<circle cx="101" cy="896.5" r="10.8" fill="none" stroke="#c8143c" stroke-width="1.5"/>
<circle cx="101" cy="896.5" r="4.1" fill="#ffa010"/>
<circle cx="538.7" cy="709.7" r="10.8" fill="none" stroke="#c8143c" stroke-width="1.5"/>
<circle cx="538.7" cy="709.7" r="4.1" fill="#ffa010"/>
<circle cx="540" cy="755.9" r="10.8" fill="none" stroke="#c8143c" stroke-width="1.5"/>
<circle cx="540" cy="755.9" r="4.1" fill="#ffa010"/>
<circle cx="163.3" cy="762.4" r="11.2" fill="#0c0c0c"/>
<circle cx="163.3" cy="762.4" r="10.60" fill="none" stroke="#3a0c1c" stroke-width="1.2"/>
<circle cx="163.3" cy="762.4" r="7.62" fill="none" stroke="#5e1430" stroke-width="1.6"/>
<circle cx="163.3" cy="762.4" r="4.5" fill="#24180a" stroke="#9c7430" stroke-width="1.3"/>
<circle cx="125.2" cy="831.7" r="14.4" fill="#0c0c0c"/>
<circle cx="125.2" cy="831.7" r="13.80" fill="none" stroke="#3a0c1c" stroke-width="1.2"/>
<circle cx="125.2" cy="831.7" r="9.79" fill="none" stroke="#5e1430" stroke-width="1.6"/>
<circle cx="125.2" cy="831.7" r="4.5" fill="#24180a" stroke="#9c7430" stroke-width="1.3"/>
<circle cx="289.5" cy="826.8" r="15.0" fill="#0c0c0c"/>
<circle cx="289.5" cy="826.8" r="14.40" fill="none" stroke="#3a0c1c" stroke-width="1.2"/>
<circle cx="289.5" cy="826.8" r="10.20" fill="none" stroke="#5e1430" stroke-width="1.6"/>
<circle cx="289.5" cy="826.8" r="4.5" fill="#24180a" stroke="#9c7430" stroke-width="1.3"/>
<circle cx="345" cy="939.8" r="17.3" fill="#0c0c0c"/>
<circle cx="345" cy="939.8" r="16.70" fill="none" stroke="#3a0c1c" stroke-width="1.2"/>
<circle cx="345" cy="939.8" r="11.76" fill="none" stroke="#5e1430" stroke-width="1.6"/>
<circle cx="345" cy="939.8" r="4.5" fill="#24180a" stroke="#9c7430" stroke-width="1.3"/>
<circle cx="539.8" cy="946.7" r="17.4" fill="#0c0c0c"/>
<circle cx="539.8" cy="946.7" r="16.80" fill="none" stroke="#3a0c1c" stroke-width="1.2"/>
<circle cx="539.8" cy="946.7" r="11.83" fill="none" stroke="#5e1430" stroke-width="1.6"/>
<circle cx="539.8" cy="946.7" r="4.5" fill="#24180a" stroke="#9c7430" stroke-width="1.3"/>
</g>
</svg>
<div class="cap" style="top:462px">Layer 1 (TOP)</div>
<div class="cap" style="top:962px">Layer 2 (pink colour)<br>GND plane</div>
</body></html>
